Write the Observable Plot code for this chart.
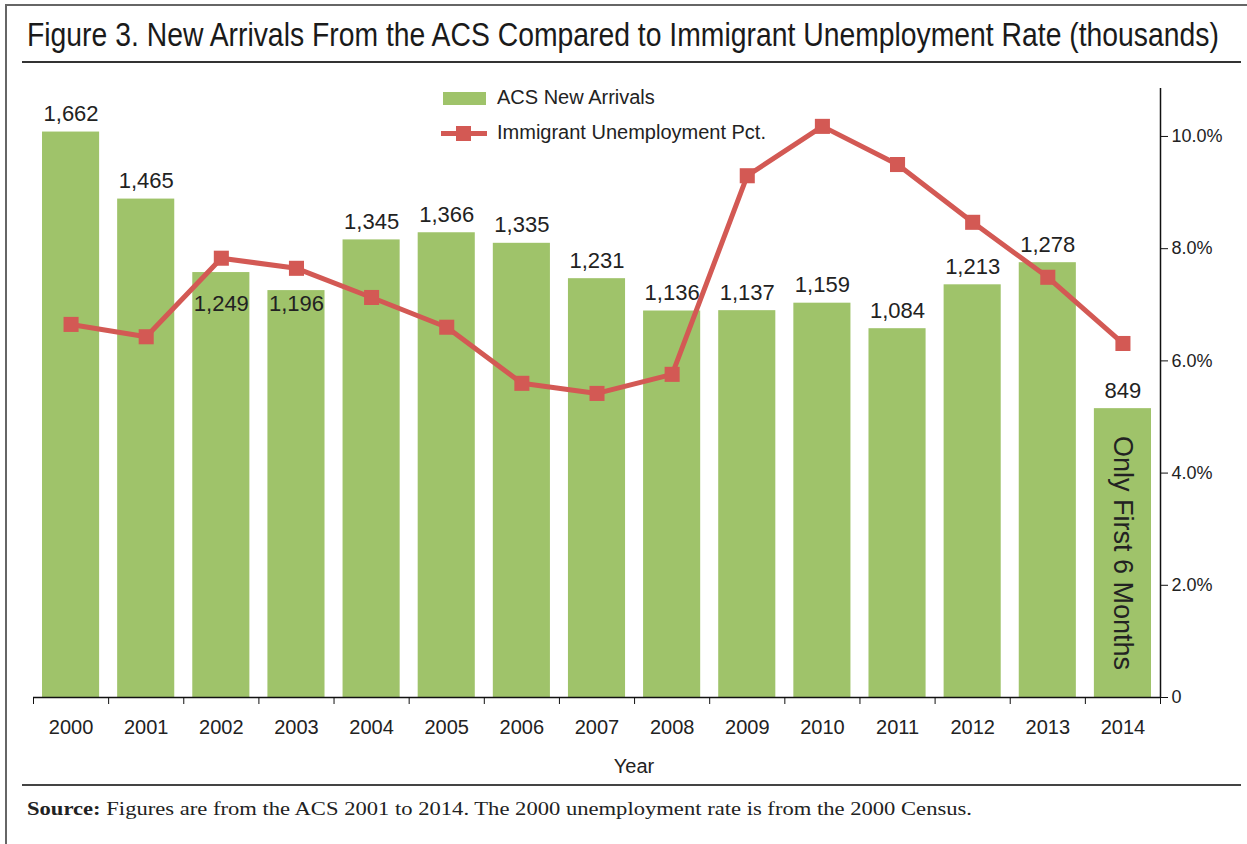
<!DOCTYPE html>
<html>
<head>
<meta charset="utf-8">
<script src="https://cdn.jsdelivr.net/npm/d3@7"></script>
<script src="https://cdn.jsdelivr.net/npm/@observablehq/plot@0.6"></script>
<style>
  html, body { margin: 0; padding: 0; background: #fff; }
  body { width: 1247px; height: 844px; position: relative; overflow: hidden; font-family: "Liberation Sans", Arial, sans-serif; }
  .abs { position: absolute; }
  #frameL { left: 5px; top: 4px; width: 2px; height: 840px; background: #666; }
  #frameT { left: 5px; top: 4px; width: 1242px; height: 2px; background: #666; }
  #rule1 { left: 22px; top: 61px; width: 1219px; height: 2px; background: #333; }
  #rule2 { left: 22px; top: 784px; width: 1219px; height: 2px; background: #444; }
  #chart { left: 0; top: 70px; }
  #title { left: 27px; top: 17px; font-size: 34px; line-height: 34px; color: #1a1a1a; white-space: nowrap; transform-origin: 0 50%; }
  .legtext { font-size: 20px; color: #222; white-space: nowrap; }
</style>
</head>
<body>
<div id="frameL" class="abs"></div>
<div id="frameT" class="abs"></div>
<div id="title" class="abs"></div>
<div id="rule1" class="abs"></div>
<div id="chart" class="abs"></div>
<div id="legend" class="abs" style="left:0;top:0"></div>
<div id="rule2" class="abs"></div>
<svg class="abs" style="left:0;top:790px" width="1247" height="40">
  <text x="27" y="25" font-family="Liberation Serif, Times New Roman, serif" font-size="18" fill="#222" textLength="945" lengthAdjust="spacingAndGlyphs"><tspan font-weight="bold">Source:</tspan> Figures are from the ACS 2001 to 2014. The 2000 unemployment rate is from the 2000 Census.</text>
</svg>
<script>
// ---- data ----
const titleText = "Figure 3. New Arrivals From the ACS Compared to Immigrant Unemployment Rate (thousands)";
const years = [2000, 2001, 2002, 2003, 2004, 2005, 2006, 2007, 2008, 2009, 2010, 2011, 2012, 2013, 2014];
const arrivals = [1662, 1465, 1249, 1196, 1345, 1366, 1335, 1231, 1136, 1137, 1159, 1084, 1213, 1278, 849];
const unemployment = [6.65, 6.43, 7.83, 7.65, 7.13, 6.60, 5.60, 5.42, 5.76, 9.30, 10.18, 9.50, 8.47, 7.49, 6.31];
const insideLabelYears = [2002, 2003];
const pctTicks = [0, 2, 4, 6, 8, 10];
const seriesNames = ["ACS New Arrivals", "Immigrant Unemployment Pct."];
const noteText = "Only First 6 Months";
const noteYear = 2014;

// ---- styles ----
const GREEN = "#9fc36a";
const RED = "#d35954";
const TXT = "#222";

// ---- title (condensed to the reference's width) ----
const titleEl = document.getElementById("title");
titleEl.textContent = titleText;
{
  const ctx = document.createElement("canvas").getContext("2d");
  ctx.font = "34px 'Liberation Sans'";
  const w = ctx.measureText(titleText).width;
  titleEl.style.transform = `scaleX(${1195 / w})`;
}

const yMax = 1790;          // thousands at top of frame
const pctMax = 10.855;      // percent at top of frame
const k = yMax / pctMax;    // thousands per percentage point (secondary axis mapping)

const data = years.map((year, i) => ({ year, arrivals: arrivals[i], pct: unemployment[i] }));
const fmt = d3.format(",");
const above = data.filter(d => !insideLabelYears.includes(d.year));
const inside = data.filter(d => insideLabelYears.includes(d.year));
const insideLevel = d3.min(inside, d => d.arrivals);
const halfBar = 0.38;

const chart = Plot.plot({
  width: 1247,
  height: 710,
  marginTop: 18,
  marginBottom: 83,
  marginLeft: 33,
  marginRight: 87,
  style: { fontFamily: "Liberation Sans, Arial, sans-serif", color: TXT, background: "transparent" },
  x: { domain: [years[0] - 0.5, years[years.length - 1] + 0.5] },
  y: { domain: [0, yMax] },
  marks: [
    Plot.rectY(data, { x1: d => d.year - halfBar, x2: d => d.year + halfBar, y1: 0, y2: "arrivals", fill: GREEN }),
    Plot.text([noteYear], { x: d => d, y: d => data.find(e => e.year === d).arrivals / 2, text: () => noteText, rotate: 90, fontSize: 27, fill: TXT }),
    Plot.text(above, { x: "year", y: "arrivals", text: d => fmt(d.arrivals), dy: -18, fontSize: 22, fill: TXT }),
    Plot.text(inside, { x: "year", y: () => insideLevel, text: d => fmt(d.arrivals), dy: 13, fontSize: 22, fill: TXT }),
    Plot.line(data, { x: "year", y: d => d.pct * k, stroke: RED, strokeWidth: 5 }),
    Plot.dot(data, { x: "year", y: d => d.pct * k, symbol: "square", r: 8.5, fill: RED, stroke: "none" }),
    Plot.ruleY([0], { stroke: "#111", strokeWidth: 1.5 }),
    Plot.ruleX([years[years.length - 1] + 0.5], { stroke: "#111", strokeWidth: 1.5 }),
    Plot.axisX({ ticks: d3.range(years[0] - 0.5, years[years.length - 1] + 1, 1), tickSize: 7, tickFormat: () => "", label: null, stroke: "#111" }),
    Plot.axisX({ ticks: years, tickSize: 0, tickPadding: 22, tickFormat: d => String(d), label: null, fontSize: 20, fill: TXT }),
    Plot.text(["Year"], { frameAnchor: "bottom", text: d => d, dx: 37, dy: 75, fontSize: 20, fill: TXT }),
    Plot.axisY({ anchor: "right", ticks: pctTicks.map(p => p * k), tickSize: 7, tickPadding: 4,
      tickFormat: v => { const p = Math.round(v / k); return p === 0 ? "0" : p.toFixed(1) + "%"; },
      label: null, fontSize: 18, fill: TXT, stroke: "#111" })
  ]
});
document.getElementById("chart").appendChild(chart);

// ---- legend ----
const leg = document.getElementById("legend");
leg.innerHTML = `
  <div class="abs" style="left:443px;top:92px;width:43px;height:13px;background:${GREEN}"></div>
  <div class="abs legtext" style="left:497px;top:86px;">${seriesNames[0]}</div>
  <div class="abs" style="left:441px;top:131px;width:46px;height:5px;background:${RED}"></div>
  <div class="abs" style="left:456px;top:126px;width:15px;height:15px;background:${RED}"></div>
  <div class="abs legtext" style="left:497px;top:121px;">${seriesNames[1]}</div>
`;
</script>
</body>
</html>
